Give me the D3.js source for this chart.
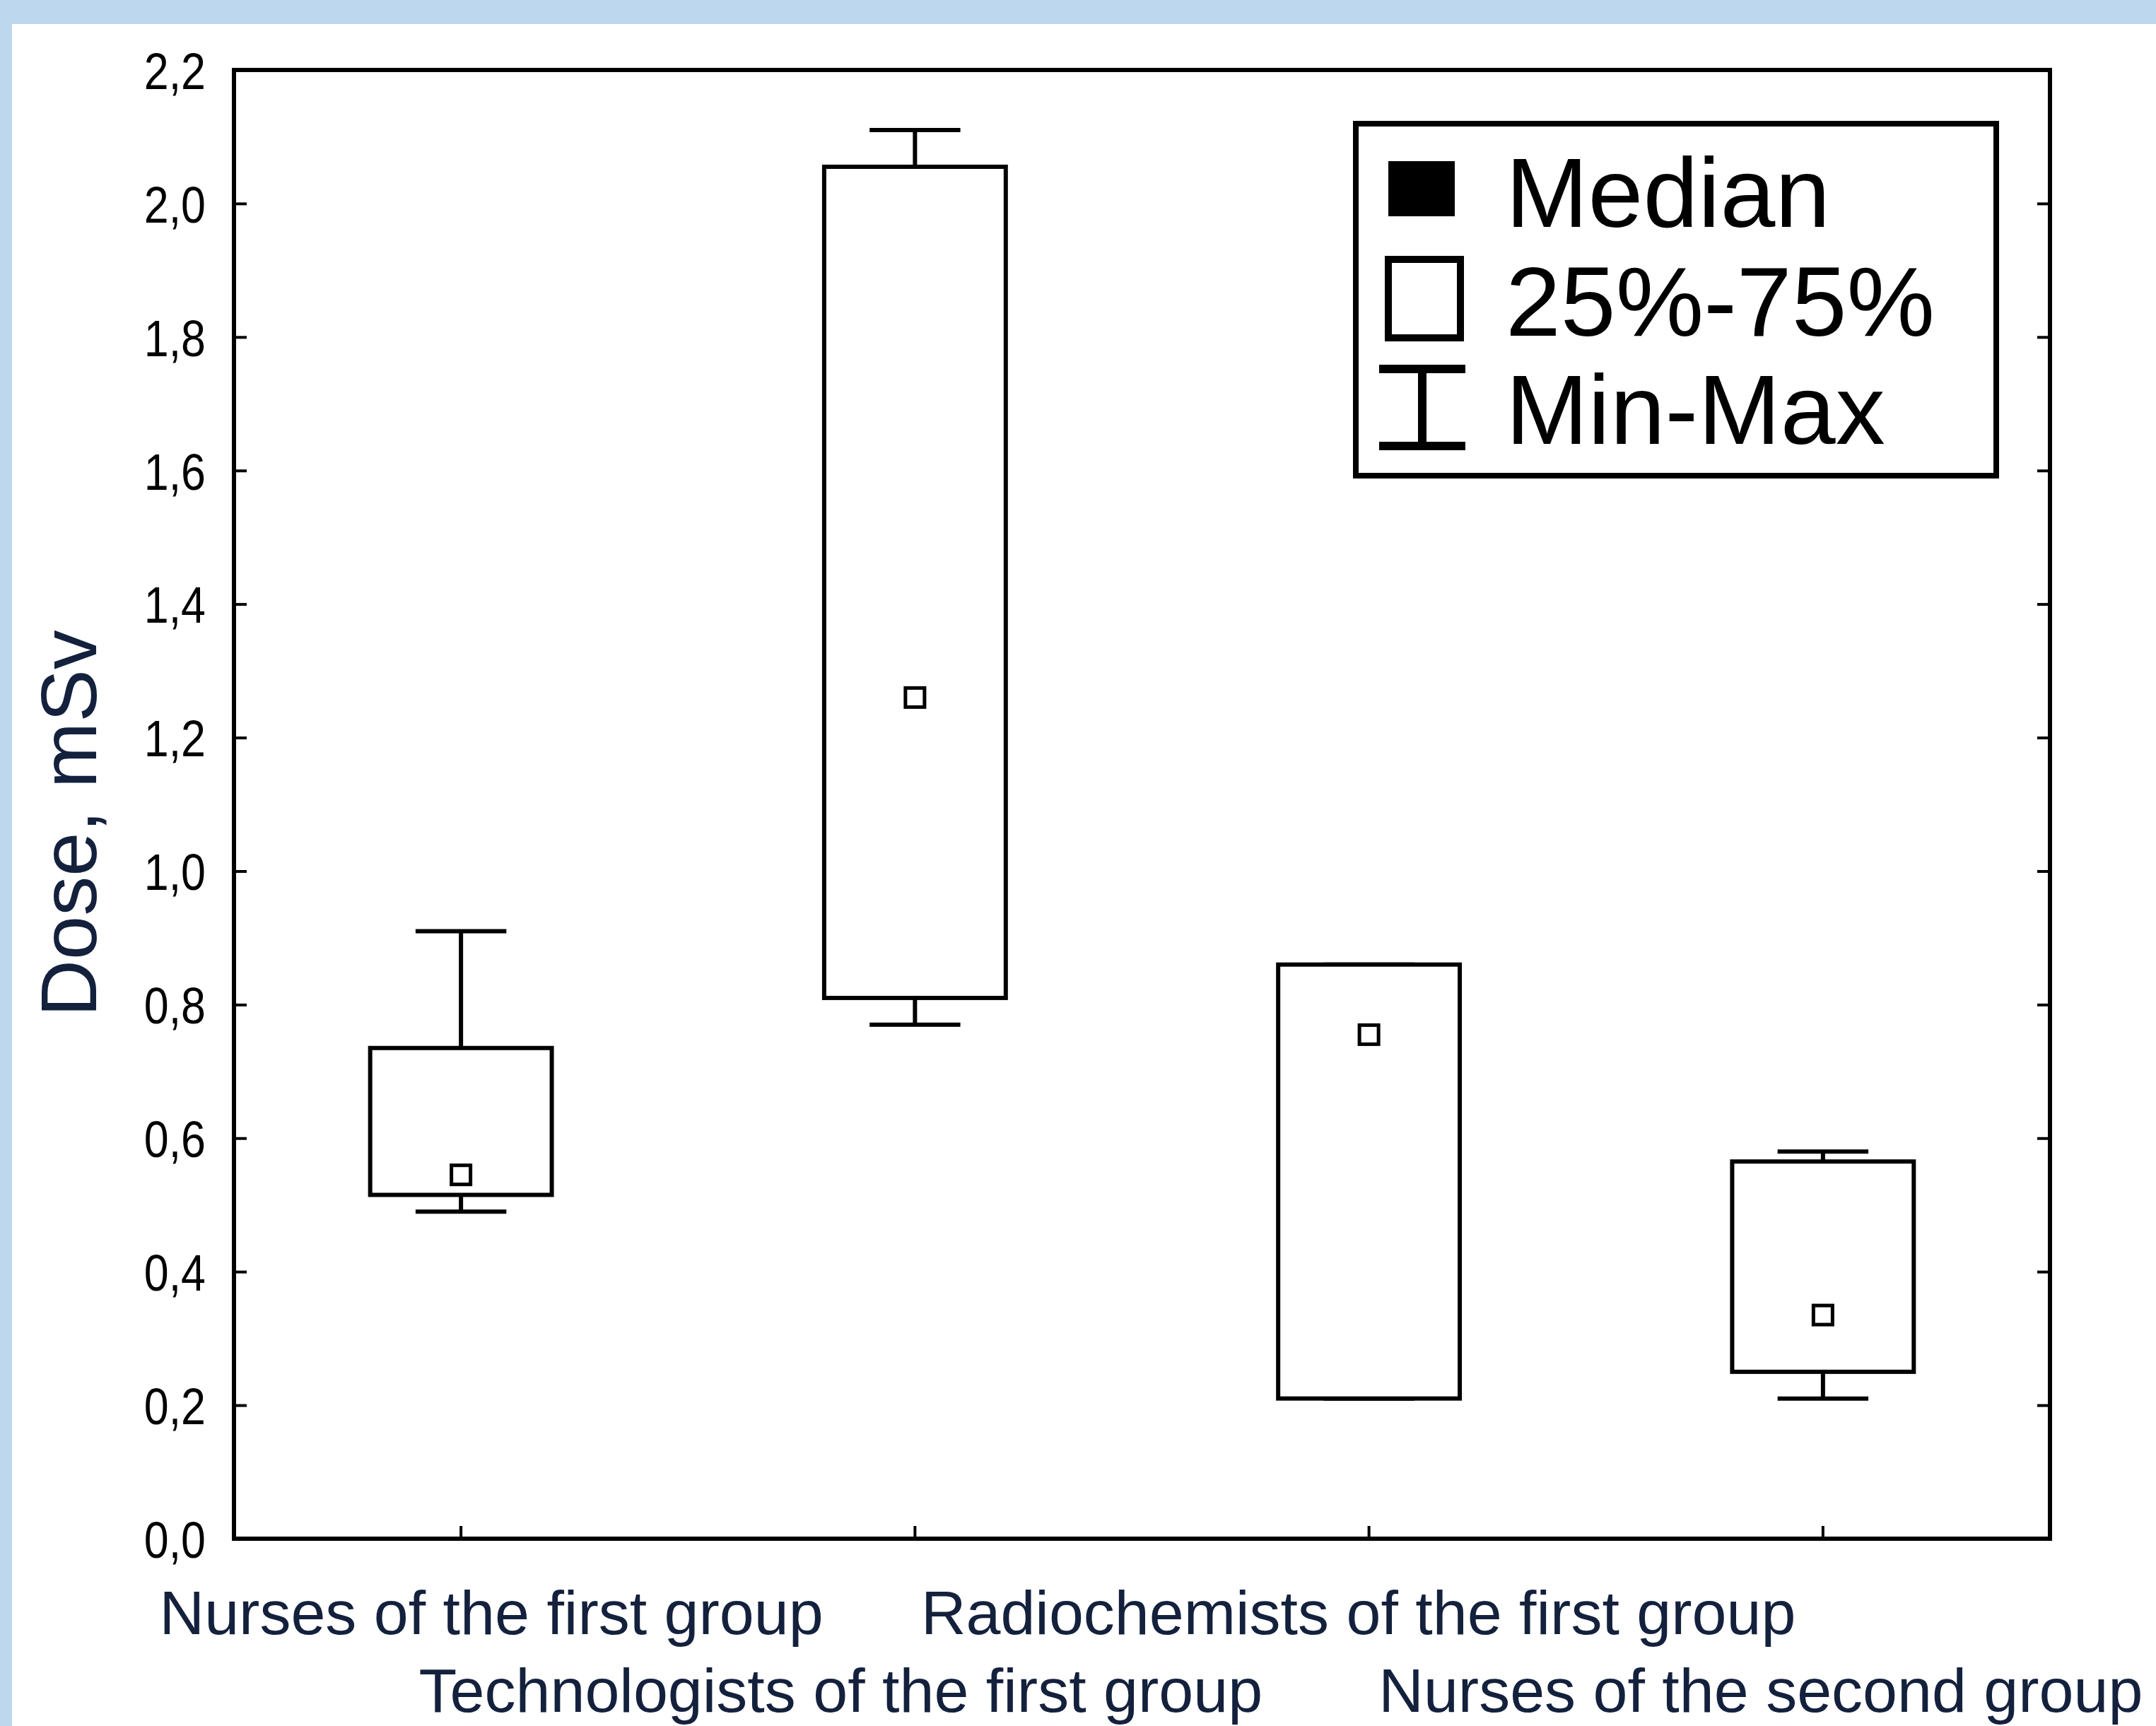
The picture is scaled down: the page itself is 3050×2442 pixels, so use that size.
<!DOCTYPE html>
<html>
<head>
<meta charset="utf-8">
<script src="https://cdn.jsdelivr.net/npm/d3@7"></script>
<style>
  html, body { margin: 0; padding: 0; background: #ffffff; }
  svg { display: block; }
</style>
</head>
<body>
<script>
// Dose distribution per staff group: median, interquartile range, min-max
const categories = [
  "Nurses of the first group",
  "Technologists of the first group",
  "Radiochemists of the first group",
  "Nurses of the second group"
];
const medians = [0.545, 1.26, 0.755, 0.335];
const q1s     = [0.515, 0.81, 0.21, 0.25];
const q3s     = [0.735, 2.055, 0.86, 0.565];
const mins    = [0.49, 0.77, 0.21, 0.21];
const maxs    = [0.91, 2.11, 0.86, 0.58];
const yTicks  = [0, 0.2, 0.4, 0.6, 0.8, 1.0, 1.2, 1.4, 1.6, 1.8, 2.0, 2.2];
const legendLabels = ["Median", "25%-75%", "Min-Max"];
const yTitle = "Dose, mSv";

const W = 3050, H = 2442;
const plot = { left: 331, right: 2900, top: 99, bottom: 2177 };
const textColor = "#14213d";
const font = "'Liberation Sans', Arial, sans-serif";

const svg = d3.select("body").append("svg")
  .attr("width", W).attr("height", H);

// page background with light blue frame on top and left
svg.append("rect").attr("width", W).attr("height", H).attr("fill", "#ffffff");
svg.append("rect").attr("x", 0).attr("y", 0).attr("width", W).attr("height", 34).attr("fill", "#bdd7ee");
svg.append("rect").attr("x", 0).attr("y", 0).attr("width", 17).attr("height", H).attr("fill", "#bdd7ee");

const x = d3.scaleBand().domain(categories).range([plot.left, plot.right]).padding(0);
const y = d3.scaleLinear().domain([0, 2.2]).range([plot.bottom, plot.top]);

const locale = d3.formatLocale({ decimal: ",", thousands: " ", grouping: [3], currency: ["", ""] });
const fmt = locale.format(".1f");

// left axis: inward ticks, labels outside
const sx = 0.86;
const yAxisLeft = d3.axisLeft(y).tickValues(yTicks).tickSize(-18).tickFormat(fmt);
const gL = svg.append("g").attr("transform", `translate(${plot.left},0)`).call(yAxisLeft);
gL.select(".domain").remove();
gL.selectAll(".tick line").attr("stroke", "#000").attr("stroke-width", 4);
gL.selectAll(".tick text")
  .attr("font-family", font).attr("font-size", 73).attr("fill", "#000")
  .attr("dy", "0.36em").attr("transform", `scale(${sx},1)`)
  .attr("x", -40 / sx);

// right axis: inward ticks only
const yAxisRight = d3.axisRight(y).tickValues(yTicks).tickSize(-18).tickFormat("");
const gR = svg.append("g").attr("transform", `translate(${plot.right},0)`).call(yAxisRight);
gR.select(".domain").remove();
gR.selectAll(".tick line").attr("stroke", "#000").attr("stroke-width", 4);

// bottom axis: inward ticks at category centres
const xAxis = d3.axisBottom(x).tickSize(-18).tickFormat("");
const gB = svg.append("g").attr("transform", `translate(0,${plot.bottom})`).call(xAxis);
gB.select(".domain").remove();
gB.selectAll(".tick line").attr("stroke", "#000").attr("stroke-width", 4);

// plot frame
svg.append("rect")
  .attr("x", plot.left).attr("y", plot.top)
  .attr("width", plot.right - plot.left).attr("height", plot.bottom - plot.top)
  .attr("fill", "none").attr("stroke", "#000").attr("stroke-width", 6);

// boxes
const bw = x.bandwidth() * 0.4;
const cw = x.bandwidth() * 0.2;
const data = categories.map((c, i) => ({
  c, med: medians[i], q1: q1s[i], q3: q3s[i], min: mins[i], max: maxs[i]
}));
const cx = d => x(d.c) + x.bandwidth() / 2;

const g = svg.append("g").attr("stroke", "#000").attr("stroke-width", 6).attr("fill", "none");
data.forEach(d => {
  const gx = cx(d);
  // whiskers
  g.append("line").attr("x1", gx).attr("x2", gx).attr("y1", y(d.max)).attr("y2", y(d.q3));
  g.append("line").attr("x1", gx).attr("x2", gx).attr("y1", y(d.q1)).attr("y2", y(d.min));
  g.append("line").attr("x1", gx - cw / 2).attr("x2", gx + cw / 2).attr("y1", y(d.max)).attr("y2", y(d.max));
  g.append("line").attr("x1", gx - cw / 2).attr("x2", gx + cw / 2).attr("y1", y(d.min)).attr("y2", y(d.min));
  // interquartile box
  g.append("rect").attr("x", gx - bw / 2).attr("y", y(d.q3))
    .attr("width", bw).attr("height", y(d.q1) - y(d.q3)).attr("fill", "#fff");
  // median marker
  const m = 27;
  g.append("rect").attr("x", gx - m / 2).attr("y", y(d.med) - m / 2)
    .attr("width", m).attr("height", m).attr("fill", "#fff").attr("stroke-width", 5);
});

// category labels, staggered on two rows
const labelNudge = [43, -105, -15, -88];
const rowBaseline = [2312, 2422];
svg.append("g").selectAll("text").data(categories).join("text")
  .attr("x", (c, i) => x(c) + x.bandwidth() / 2 + labelNudge[i])
  .attr("y", (c, i) => rowBaseline[i % 2])
  .attr("text-anchor", "middle")
  .attr("font-family", font).attr("font-size", 88)
  .attr("fill", textColor)
  .text(c => c);

// y axis title
svg.append("text")
  .attr("transform", `translate(136,1165) rotate(-90)`)
  .attr("text-anchor", "middle")
  .attr("font-family", font).attr("font-size", 112)
  .attr("fill", textColor)
  .text(yTitle);

// legend
const lg = svg.append("g");
lg.append("rect").attr("x", 1918).attr("y", 175).attr("width", 906).attr("height", 498)
  .attr("fill", "#fff").attr("stroke", "#000").attr("stroke-width", 8);
lg.append("rect").attr("x", 1964).attr("y", 228).attr("width", 94).attr("height", 78).attr("fill", "#000");
lg.append("rect").attr("x", 1964).attr("y", 367).attr("width", 102).attr("height", 111)
  .attr("fill", "#fff").attr("stroke", "#000").attr("stroke-width", 10);
const lw = lg.append("g").attr("stroke", "#000").attr("stroke-width", 12);
lw.append("line").attr("x1", 1951).attr("x2", 2073).attr("y1", 522).attr("y2", 522);
lw.append("line").attr("x1", 1951).attr("x2", 2073).attr("y1", 631).attr("y2", 631);
lw.append("line").attr("x1", 2012).attr("x2", 2012).attr("y1", 522).attr("y2", 631);
const legendBaselines = [321, 475, 628];
lg.selectAll("text.leg").data(legendLabels).join("text")
  .attr("class", "leg")
  .attr("x", 2130).attr("y", (d, i) => legendBaselines[i])
  .attr("font-family", font).attr("font-size", 140)
  .attr("fill", "#000")
  .text(d => d);
</script>
</body>
</html>
